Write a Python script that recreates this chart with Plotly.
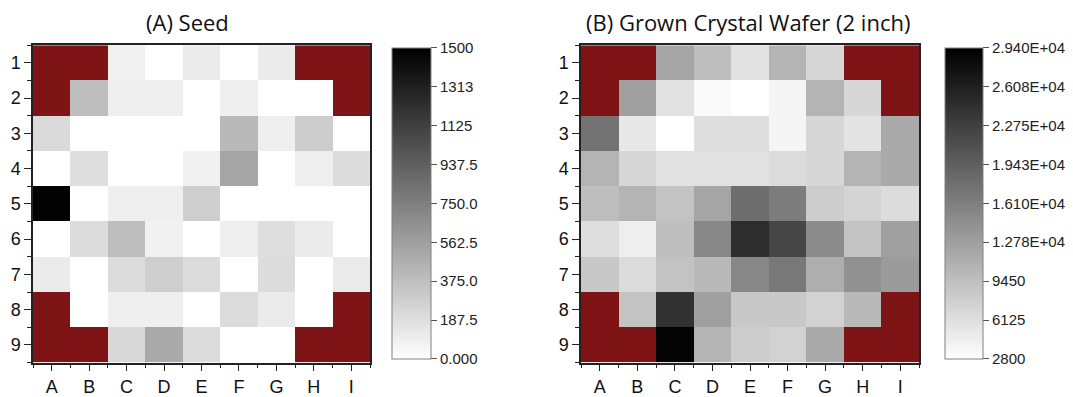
import numpy as np
import plotly.graph_objects as go

cols = ["A", "B", "C", "D", "E", "F", "G", "H", "I"]
rows = ["1", "2", "3", "4", "5", "6", "7", "8", "9"]
N = np.nan

# Seed values (counts); NaN = masked corner cells (dark red)
seed = [
    [N,    N,    90,   0,    115,  0,    115,  N,    N],
    [N,    380,  100,  100,  0,    95,   0,    0,    N],
    [220,  0,    0,    0,    0,    410,  95,   295,  0],
    [0,    195,  0,    0,    85,   530,  0,    100,  205],
    [1490, 0,    95,   95,   290,  0,    0,    0,    0],
    [0,    205,  380,  85,   0,    100,  195,  115,  0],
    [115,  0,    205,  290,  205,  0,    205,  0,   115],
    [N,    0,    95,   95,   0,    205,  115,  0,    N],
    [N,    N,    230,  500,  205,  0,    0,    N,    N],
]

# Grown crystal wafer values
wafer = [
    [N,     N,     12200, 9600,  5900,  10600, 7000,  N,     N],
    [N,     12700, 5900,  3300,  2800,  3800,  10600, 7000,  N],
    [17400, 5200,  2800,  6200,  6200,  3800,  7000,  5600,  11700],
    [10600, 7000,  5900,  5900,  5900,  6400,  7000,  10600, 11700],
    [9600,  10600, 9100,  12200, 17900, 16400, 8000,  7300,  6400],
    [6200,  4600,  9600,  15300, 24700, 22100, 14800, 9100,  12700],
    [8500,  6400,  9100,  10100, 15300, 16900, 11200, 14300, 13200],
    [N,     9100,  24200, 12700, 8500,  8500,  7500,  10100, N],
    [N,     N,     29000, 10600, 8000,  7500,  11700, N,     N],
]

mask = [
    [1, 1, N, N, N, N, N, 1, 1],
    [1, N, N, N, N, N, N, N, 1],
    [N, N, N, N, N, N, N, N, N],
    [N, N, N, N, N, N, N, N, N],
    [N, N, N, N, N, N, N, N, N],
    [N, N, N, N, N, N, N, N, N],
    [N, N, N, N, N, N, N, N, N],
    [1, N, N, N, N, N, N, N, 1],
    [1, 1, N, N, N, N, N, 1, 1],
]

seed_ticks = [0, 187.5, 375, 562.5, 750, 937.5, 1125, 1313, 1500]
seed_ticktext = ["0.000", "187.5", "375.0", "562.5", "750.0", "937.5", "1125", "1313", "1500"]
wafer_ticks = [2800, 6125, 9450, 12780, 16100, 19430, 22750, 26080, 29400]
wafer_ticktext = ["2800", "6125", "9450", "1.278E+04", "1.610E+04", "1.943E+04",
                  "2.275E+04", "2.608E+04", "2.940E+04"]

titles = ["(A) Seed", "(B) Grown Crystal Wafer (2 inch)"]

# page body has an 8px margin, so the figure is placed 8px in from the window corner
OFF = 8
W, H = 1073 - OFF, 397 - OFF
def px(x): return (x - OFF) / W
def py(y): return 1 - (y - OFF) / H

gray = [[0, "#ffffff"], [1, "#000000"]]
red = "#7e1416"
xi = list(range(1, 10))
yi = list(range(1, 10))

fig = go.Figure()

panels = [
    dict(z=seed, zmin=0, zmax=1500, tv=seed_ticks, tt=seed_ticktext,
         cbx=392, cbt=39, xa="x", ya="y", tcx=187),
    dict(z=wafer, zmin=2800, zmax=29400, tv=wafer_ticks, tt=wafer_ticktext,
         cbx=945, cbt=38, xa="x2", ya="y2", tcx=748),
]

for i, p in enumerate(panels):
    fig.add_trace(go.Heatmap(
        z=p["z"], x=xi, y=yi, zmin=p["zmin"], zmax=p["zmax"], colorscale=gray,
        xaxis=p["xa"], yaxis=p["ya"], xgap=0, ygap=0,
        colorbar=dict(
            x=px(p["cbx"]), xanchor="left", xpad=0, ypad=0,
            y=py(207.5), yanchor="middle", lenmode="pixels", len=311,
            thickness=p["cbt"], outlinecolor="#808080", outlinewidth=1,
            tickmode="array", tickvals=p["tv"], ticktext=p["tt"],
            ticks="outside", ticklen=6, tickcolor="#555555",
            tickfont=dict(family="Liberation Sans, Arial", size=15, color="#222222"),
        ),
    ))
    fig.add_trace(go.Heatmap(
        z=mask, x=xi, y=yi, zmin=0, zmax=1, colorscale=[[0, red], [1, red]],
        showscale=False, xaxis=p["xa"], yaxis=p["ya"], hoverinfo="skip",
    ))
    fig.add_annotation(text=titles[i], x=px(p["tcx"]), y=py(22), xref="paper", yref="paper",
                       xanchor="center", yanchor="middle", showarrow=False,
                       font=dict(family="Open Sans, Noto Sans", size=22, color="#111111"))

axis_common = dict(
    showgrid=False, zeroline=False, showline=True, linecolor="#222222", linewidth=1.5,
    mirror=True, ticks="outside", ticklen=7, tickwidth=1.2, tickcolor="#222222",
    tickfont=dict(family="Liberation Sans, Arial", size=18, color="#111111"),
    range=[0.5, 9.5], tickmode="array", tickvals=xi,
    minor=dict(tickmode="linear", tick0=0.5, dtick=1, ticks="outside", ticklen=4,
               tickcolor="#222222", tickwidth=1.2, showgrid=False),
)

yd = [py(370), py(46)]
fig.update_layout(
    width=W, height=H, margin=dict(l=0, r=0, t=0, b=0),
    paper_bgcolor="white", plot_bgcolor="white", showlegend=False,
    xaxis=dict(axis_common, domain=[px(33), px(370)], ticktext=cols, anchor="y"),
    yaxis=dict(axis_common, domain=yd, ticktext=rows, autorange=False,
               range=[9.5, 0.5], anchor="x"),
    xaxis2=dict(axis_common, domain=[px(581), px(919)], ticktext=cols, anchor="y2"),
    yaxis2=dict(axis_common, domain=yd, ticktext=rows, autorange=False,
                range=[9.5, 0.5], anchor="x2"),
)

fig.write_html("out.html", config={"displayModeBar": False})
